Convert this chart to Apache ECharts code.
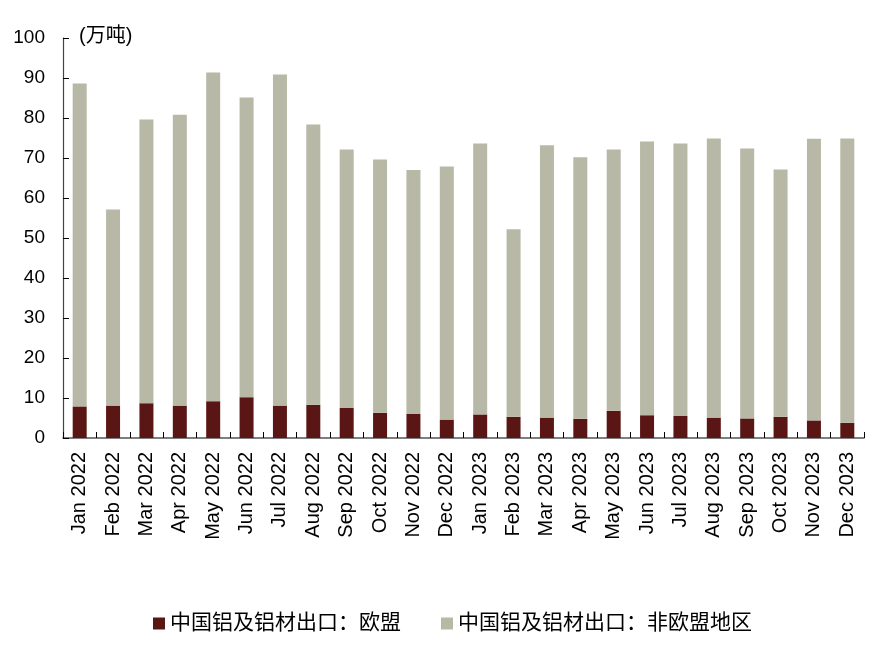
<!DOCTYPE html>
<html>
<head>
<meta charset="utf-8">
<script src="https://cdn.jsdelivr.net/npm/echarts@6/dist/echarts.min.js"></script>
<style>html,body{margin:0;padding:0;background:#fff;}#c{width:886px;height:655px;}</style>
</head>
<body>
<div id="c"></div>
<script>
var categories = ['Jan 2022','Feb 2022','Mar 2022','Apr 2022','May 2022','Jun 2022','Jul 2022','Aug 2022','Sep 2022','Oct 2022','Nov 2022','Dec 2022',
  'Jan 2023','Feb 2023','Mar 2023','Apr 2023','May 2023','Jun 2023','Jul 2023','Aug 2023','Sep 2023','Oct 2023','Nov 2023','Dec 2023'];
var euExports = [7.9, 8.1, 8.7, 8.1, 9.2, 10.2, 8.1, 8.3, 7.5, 6.3, 6.0, 4.6, 5.9, 5.3, 5.1, 4.8, 6.8, 5.7, 5.5, 5.1, 4.9, 5.3, 4.4, 3.8];
var nonEuExports = [80.7, 49.0, 70.9, 72.7, 82.2, 74.9, 82.8, 70.1, 64.6, 63.3, 61.0, 63.3, 67.7, 46.9, 68.1, 65.4, 65.3, 68.4, 68.1, 69.8, 67.5, 61.8, 70.4, 71.1];
var seriesNames = ['中国铝及铝材出口：欧盟', '中国铝及铝材出口：非欧盟地区'];
var unitLabel = '(万吨)';

var latin = "'Liberation Sans', Arial, sans-serif";
var cjk = "'Liberation Sans', 'Noto Sans CJK SC', sans-serif";
var chart = echarts.init(document.getElementById('c'), null, {renderer: 'canvas'});
chart.setOption({
  animation: false,
  backgroundColor: '#ffffff',
  grid: {left: 63, right: 22, top: 38, bottom: 217, containLabel: false},
  legend: {
    data: seriesNames,
    left: 148, top: 608,
    itemWidth: 12, itemHeight: 12, itemGap: 40,
    icon: 'rect',
    textStyle: {fontFamily: cjk, fontSize: 21, color: '#000'}
  },
  graphic: [{
    type: 'text', left: 79, top: 26,
    style: {text: unitLabel, font: "20px 'Liberation Sans', 'Noto Sans CJK SC', sans-serif", fill: '#000'}
  }],
  xAxis: {
    type: 'category', data: categories,
    axisLine: {lineStyle: {color: '#555', width: 1.5}},
    axisTick: {show: true, inside: true, length: 6, lineStyle: {color: '#000'}},
    axisLabel: {rotate: 90, interval: 0, margin: 14, fontFamily: latin, fontSize: 20, color: '#000'}
  },
  yAxis: {
    type: 'value', min: 0, max: 100, interval: 10,
    splitLine: {show: false},
    axisLine: {show: true, lineStyle: {color: '#444', width: 1.2}},
    axisTick: {show: true, inside: true, length: 6, lineStyle: {color: '#000'}},
    axisLabel: {margin: 18, fontFamily: latin, fontSize: 19, color: '#000'}
  },
  series: [
    {name: seriesNames[0], type: 'bar', stack: 'total', data: euExports, barWidth: 14,
     itemStyle: {color: '#5a1614'}},
    {name: seriesNames[1], type: 'bar', stack: 'total', data: nonEuExports, barWidth: 14,
     itemStyle: {color: '#b7b8a5'}}
  ]
});
</script>
</body>
</html>
